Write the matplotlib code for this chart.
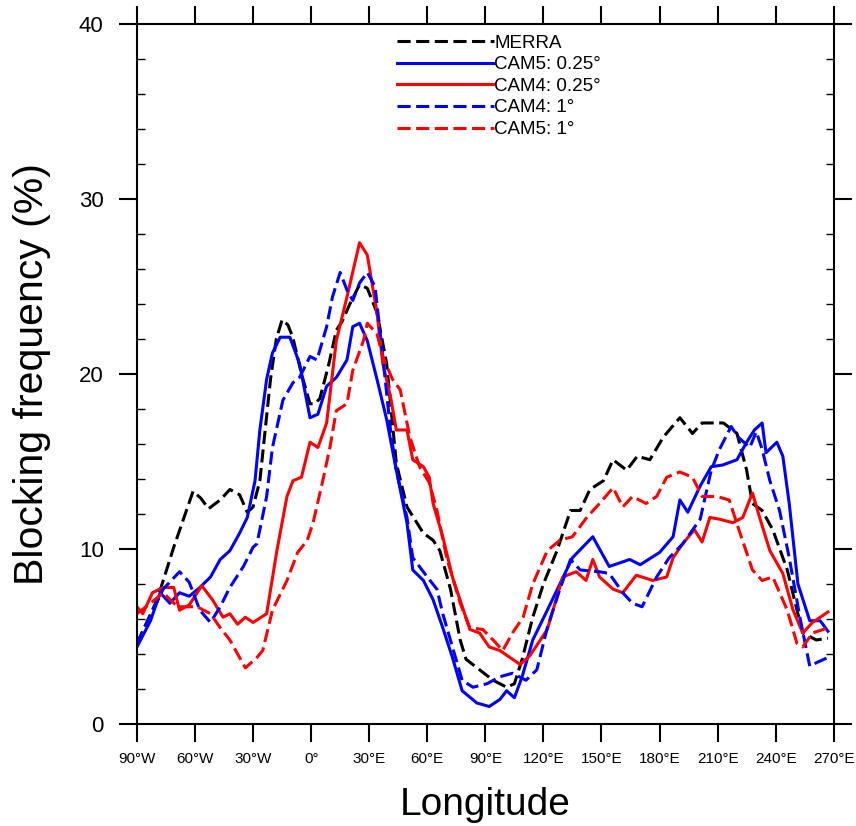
import numpy as np
import matplotlib
matplotlib.use("Agg")
import matplotlib.pyplot as plt

plt.rcParams['font.family'] = ['Liberation Sans', 'DejaVu Sans']

# longitudes (deg, 0-centred, east positive) and blocking frequency (%)
merra_lon = [-90, -85, -80, -77, -71, -66, -61, -57, -53, -47, -42, -37, -33, -30, -26.5, -21, -18, -15, -12, -9.5,
             -5, -0.6, 2, 4.5, 9, 13, 16, 20, 25, 29, 34, 39, 44, 49.5, 54.6, 58, 63, 66.5, 72, 77, 80, 87, 94,
             101, 105, 109, 114.5, 120, 127, 134, 139, 144, 151, 156, 163, 168.5, 175, 182, 190.5, 197, 202,
             213, 220, 225, 228, 233, 238.5, 246, 251, 254, 261, 267]
merra = [4.6, 5.8, 7.0, 8.0, 10.1, 11.7, 13.3, 12.9, 12.3, 12.8, 13.4, 13.1, 12.1, 12.4, 13.9, 19.7, 22.0, 23.1, 22.8, 22.1,
         20.0, 18.3, 18.3, 18.6, 20.5, 22.5, 23.0, 24.0, 25.1, 24.9, 23.5, 20.6, 14.9, 12.4, 11.5, 10.9, 10.5, 9.9, 7.7, 4.8,
         3.7, 3.1, 2.5, 2.1, 2.3, 3.7, 6.1, 8.0, 9.9, 12.2, 12.2, 13.4, 13.9, 15.1, 14.5, 15.3, 15.1, 16.4, 17.5, 16.6,
         17.2, 17.2, 16.6, 14.5, 12.6, 12.2, 11.1, 8.8, 6.5, 5.2, 4.8, 4.9]

cam5_hr_lon = [-90, -83, -78, -73, -68, -63, -57.5, -52, -47, -42, -37, -33, -29, -26.5, -23, -20, -16, -11, -6, -0.6,
               3.5, 8, 13, 18.5, 21.5, 25, 29, 34, 39, 44, 49.5, 52.5, 58, 63, 68, 73, 78, 85.6, 92, 97.5, 101, 105,
               109, 114.5, 122, 128.5, 135, 145.5, 154, 164.6, 170, 180, 187, 190.5, 194.6, 201, 206.7, 212.7, 220,
               225, 229, 233, 235, 240.6, 243.7, 247, 251.5, 257.6, 263, 267]
cam5_hr = [4.4, 5.9, 7.5, 6.9, 7.5, 7.3, 7.8, 8.4, 9.4, 9.9, 10.9, 11.8, 13.9, 16.8, 19.7, 21.2, 22.1, 22.1, 20.6, 17.5,
           17.7, 19.3, 19.8, 20.8, 22.7, 22.9, 21.9, 19.7, 17.4, 14.5, 11.5, 8.8, 8.2, 7.1, 5.5, 3.8, 1.9, 1.2, 1.0, 1.4,
           1.9, 1.5, 2.7, 4.8, 6.5, 8.0, 9.5, 10.7, 9.0, 9.4, 9.1, 9.8, 10.7, 12.8, 12.1, 13.6, 14.7, 14.8, 15.1, 16.1,
           16.8, 17.2, 15.5, 16.1, 15.3, 12.6, 8.0, 5.9, 5.9, 5.3]

cam4_hr_lon = [-90, -87, -82, -76.5, -71, -68, -63, -56.5, -51, -45.5, -42, -38, -34, -30, -23, -17.7, -12.5, -9.4,
               -5, -0.6, 3.5, 8, 13, 18.5, 25, 29, 34, 37, 41, 44, 49.5, 52.5, 58, 61, 63, 68, 73, 82, 87, 92, 97.5,
               102.7, 108, 113, 122, 130, 137, 142, 145.5, 149, 156, 161, 168, 176.5, 183.7, 187, 192, 198, 202,
               206, 211, 218, 223, 228, 232, 237, 243.7, 249, 254, 259, 263, 267]
cam4_hr = [6.7, 6.3, 7.5, 7.8, 7.8, 6.5, 6.8, 7.9, 7.1, 6.1, 6.3, 5.7, 6.1, 5.8, 6.3, 9.9, 13.0, 13.9, 14.1, 16.1, 15.8,
           17.2, 21.9, 24.4, 27.5, 26.8, 23.5, 20.6, 18.7, 16.8, 16.8, 15.1, 14.7, 14.1, 12.6, 10.7, 8.4, 5.4, 5.2, 4.4,
           4.2, 3.8, 3.4, 3.9, 5.4, 8.4, 8.7, 8.2, 9.4, 8.4, 7.7, 7.5, 8.5, 8.2, 8.4, 9.5, 10.3, 11.1, 10.4, 11.8, 11.7,
           11.5, 11.8, 13.2, 11.7, 9.9, 8.6, 6.5, 5.2, 5.8, 6.1, 6.4]

cam4_1d_lon = [-90, -83, -76.5, -68, -63, -57.5, -52, -47, -42, -35, -30, -28, -23, -20, -14.6, -9.4, -6, -0.6, 3, 8,
               11, 15, 18.5, 21.5, 25, 29, 33, 37, 41, 44, 49.5, 52.5, 60, 65, 68, 73, 78, 83.6, 90.8, 97.5, 104,
               111, 116.6, 122, 128.5, 134, 139, 149, 154, 161, 166, 171, 178.5, 185, 192, 201, 206.7, 211, 217,
               220.5, 226.6, 230, 233, 237, 242, 247, 252.5, 257.6, 261, 267]
cam4_1d = [4.6, 6.2, 7.7, 8.7, 8.1, 6.5, 5.8, 6.7, 7.8, 9.0, 10.1, 10.3, 13.0, 15.8, 18.5, 19.5, 19.8, 21.0, 20.8, 22.7,
           24.4, 25.8, 24.8, 24.2, 25.2, 25.8, 25.0, 21.0, 16.8, 14.5, 11.8, 9.5, 8.4, 7.7, 6.3, 4.4, 2.5, 2.1, 2.3,
           2.7, 2.9, 2.5, 3.1, 5.5, 7.7, 9.4, 8.8, 8.7, 8.6, 7.5, 6.9, 6.7, 8.4, 9.5, 10.3, 11.7, 14.5, 15.7, 17.0,
           16.4, 15.8, 16.7, 15.7, 13.9, 12.2, 9.5, 6.1, 3.3, 3.5, 3.8]

cam5_1d_lon = [-90, -83, -76.5, -69, -64, -59, -52, -47, -42, -34, -28, -25, -20, -12.5, -7, -2, 1, 6, 9.7, 13,
               18.5, 21.5, 27, 29, 34, 37, 42, 46, 51, 56, 61, 65, 70, 77, 82, 88.7, 94, 99, 104, 109.5, 114.5,
               122, 128.5, 135, 142.4, 149, 156, 161, 166, 173, 178.5, 183.7, 190.5, 197, 202, 209.6, 216, 221,
               228, 233, 238.5, 246, 251, 254, 259, 264.6, 267]
cam5_1d = [6.3, 6.9, 7.5, 6.7, 6.7, 6.7, 6.3, 5.5, 4.8, 3.2, 3.8, 4.2, 6.5, 8.2, 9.8, 10.5, 11.5, 13.9, 15.8, 17.9,
           18.3, 20.2, 21.9, 22.9, 22.3, 21.0, 19.7, 19.1, 16.4, 14.7, 13.8, 12.2, 9.5, 6.9, 5.5, 5.4, 4.8, 4.2, 5.2,
           6.1, 8.0, 9.9, 10.5, 10.7, 11.8, 12.6, 13.5, 12.4, 13.0, 12.6, 13.0, 14.1, 14.4, 14.1, 13.0, 13.0, 12.8,
           11.1, 8.8, 8.2, 8.4, 6.5, 4.6, 4.4, 5.2, 5.4, 5.5]

xticks = [-90, -60, -30, 0, 30, 60, 90, 120, 150, 180, 210, 240, 270]
xticklabels = ['90°W', '60°W', '30°W', '0°', '30°E', '60°E', '90°E', '120°E',
               '150°E', '180°E', '210°E', '240°E', '270°E']

fig = plt.figure(figsize=(8.56, 8.26), dpi=100)
ax = fig.add_axes([0.160, 0.1235, 0.814, 0.8475])

dash = (4.3, 1.8)
ax.plot(merra_lon, merra, color='black', lw=2.2, dashes=dash, label='MERRA')
ax.plot(cam5_hr_lon, cam5_hr, color='blue', lw=2.2, label='CAM5: 0.25°')
ax.plot(cam4_hr_lon, cam4_hr, color='red', lw=2.2, label='CAM4: 0.25°')
ax.plot(cam4_1d_lon, cam4_1d, color='blue', lw=2.2, dashes=dash, label='CAM4: 1°')
ax.plot(cam5_1d_lon, cam5_1d, color='red', lw=2.2, dashes=dash, label='CAM5: 1°')

ax.set_xlim(-90, 270)
ax.set_ylim(0, 40)
ax.set_xticks(xticks)
ax.set_xticklabels(xticklabels)
ax.set_yticks([0, 10, 20, 30, 40])
ax.set_yticks(np.arange(0, 41, 2), minor=True)
ax.tick_params(axis='x', which='minor', bottom=False, top=False)

ax.tick_params(which='major', direction='out', length=13, width=1.5,
               top=True, right=True)
ax.tick_params(axis='y', which='minor', direction='in', length=6, width=1.0,
               left=True, right=True)
ax.tick_params(axis='x', labelsize=11, pad=7)
ax.tick_params(axis='y', labelsize=16, pad=11)
for s in ax.spines.values():
    s.set_linewidth(1.5)

ax.set_xlabel('Longitude', fontsize=28, labelpad=15)
ax.set_ylabel('Blocking frequency (%)', fontsize=29.5, labelpad=20)

leg = ax.legend(loc='upper left', bbox_to_anchor=(0.373, 0.985), frameon=False,
                fontsize=13.5, handlelength=5.2, handletextpad=0.0,
                labelspacing=0.24, borderaxespad=0.0, borderpad=0.0)

fig.savefig('out.png', dpi=100)
